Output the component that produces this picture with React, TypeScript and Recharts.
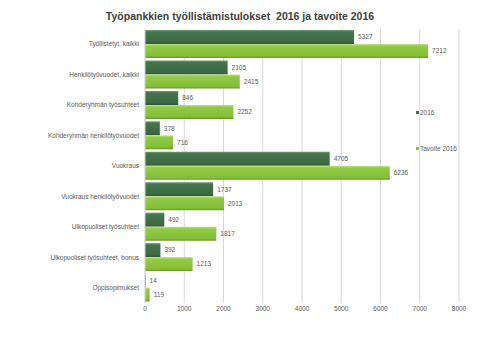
import { BarChart, Bar, XAxis, YAxis, CartesianGrid, LabelList } from 'recharts'

const categories = [
  'Työllistetyt, kaikki',
  'Henkilötyövuodet, kaikki',
  'Kohderyhmän työsuhteet',
  'Kohderyhmän henkilötyövuodet',
  'Vuokraus',
  'Vuokraus henkilötyövuodet',
  'Ulkopuoliset työsuhteet',
  'Ulkopuoliset työsuhteet, bonus',
  'Oppisopimukset',
]
const toteutunut2016 = [5327, 2105, 846, 378, 4705, 1737, 492, 392, 14]
const tavoite2016 = [7212, 2415, 2252, 716, 6236, 2013, 1817, 1213, 119]
const xTicks = [0, 1000, 2000, 3000, 4000, 5000, 6000, 7000, 8000]

const FONT = '"Liberation Sans", Arial, sans-serif'
const TEXT = '#595959'

const data = categories.map((name, i) => ({
  name,
  v2016: toteutunut2016[i],
  tavoite: tavoite2016[i],
}))

// category label without wrapping
function CategoryTick(props: any) {
  const { x, y, payload } = props
  return (
    <text x={x} y={y} dy="0.35em" textAnchor="end" fill={TEXT} fontSize={6.5} fontFamily={FONT}>
      {payload.value}
    </text>
  )
}

function LegendBox() {
  const items = [
    { label: '2016', color: '#3f6e47' },
    { label: 'Tavoite 2016', color: '#8cc63f' },
  ]
  return (
    <div style={{ position: 'absolute', left: 416, top: 108, fontFamily: FONT, fontSize: 6.5, color: TEXT }}>
      {items.map((it, i) => (
        <div key={it.label} style={{ display: 'flex', alignItems: 'center', height: 8, marginBottom: i === 0 ? 28 : 0 }}>
          <span style={{ width: 3, height: 3, background: it.color, marginRight: 1, display: 'inline-block' }} />
          {it.label}
        </div>
      ))}
    </div>
  )
}

export default function App() {
  return (
    <div style={{ position: 'absolute', left: 0, top: 0, width: 480, height: 360, background: '#fff' }}>
      <div
        style={{
          position: 'absolute',
          top: 10,
          width: 480,
          textAlign: 'center',
          fontFamily: FONT,
          fontWeight: 'bold',
          fontSize: 10.5,
          color: '#404040',
          whiteSpace: 'pre',
        }}
      >
        {'Työpankkien työllistämistulokset  2016 ja tavoite 2016'}
      </div>
      <BarChart
        width={480}
        height={360}
        data={data}
        layout="vertical"
        margin={{ top: 29, right: 21, bottom: 27, left: 0 }}
        barGap={0}
        barSize={14}
      >
        <defs>
          <linearGradient id="gDark" x1="0" y1="0" x2="0" y2="1">
            <stop offset="0%" stopColor="#6a9a70" />
            <stop offset="15%" stopColor="#44744c" />
            <stop offset="85%" stopColor="#3a6942" />
            <stop offset="100%" stopColor="#2c5433" />
          </linearGradient>
          <linearGradient id="gLight" x1="0" y1="0" x2="0" y2="1">
            <stop offset="0%" stopColor="#c2e68c" />
            <stop offset="15%" stopColor="#92cb45" />
            <stop offset="85%" stopColor="#84bd38" />
            <stop offset="100%" stopColor="#649b25" />
          </linearGradient>
        </defs>
        <CartesianGrid horizontal={false} stroke="#d9d9d9" />
        <XAxis
          type="number"
          domain={[0, 8000]}
          ticks={xTicks}
          axisLine={false}
          tickLine={false}
          tickSize={0}
          tickMargin={3}
          tick={{ fill: TEXT, fontSize: 6.5, fontFamily: FONT }}
        />
        <YAxis
          type="category"
          dataKey="name"
          width={145}
          axisLine={{ stroke: '#d9d9d9' }}
          tickLine={false}
          tickSize={0}
          tickMargin={6}
          interval={0}
          tick={<CategoryTick />}
        />
        <Bar dataKey="v2016" name="2016" fill="url(#gDark)" isAnimationActive={false}>
          <LabelList dataKey="v2016" position="right" offset={4} style={{ fill: TEXT, fontSize: 6.5, fontFamily: FONT }} />
        </Bar>
        <Bar dataKey="tavoite" name="Tavoite 2016" fill="url(#gLight)" isAnimationActive={false}>
          <LabelList dataKey="tavoite" position="right" offset={4} style={{ fill: TEXT, fontSize: 6.5, fontFamily: FONT }} />
        </Bar>
      </BarChart>
      <LegendBox />
    </div>
  )
}
